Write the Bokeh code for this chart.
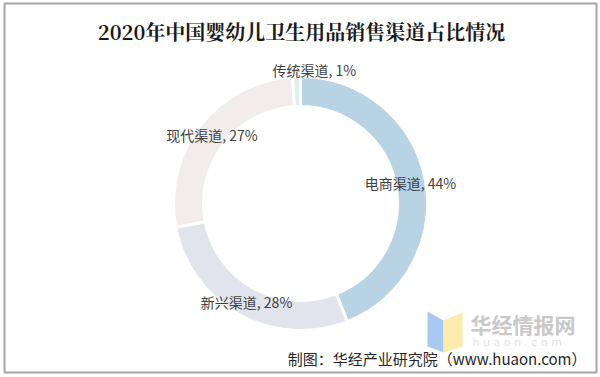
import math
from bokeh.plotting import figure
from bokeh.models import Range1d, ColumnDataSource
from bokeh.core.properties import value
from bokeh.embed import file_html
from bokeh.resources import INLINE

# ---- data ----
title = "2020年中国婴幼儿卫生用品销售渠道占比情况"
categories = ["电商渠道", "新兴渠道", "现代渠道", "传统渠道"]
shares = [44, 28, 27, 1]
colors = ["#B7D3E4", "#E1E4EC", "#F3ECEC", "#DCEEF0"]
source_note = "制图：华经产业研究院（www.huaon.com）"

W, H = 600, 377


def sy(y):
    return H - y


p = figure(width=W, height=H, output_backend="svg", toolbar_location=None,
           x_range=Range1d(0, W), y_range=Range1d(0, H),
           x_axis_type=None, y_axis_type=None, min_border=0)
p.grid.visible = False
p.outline_line_color = None
p.background_fill_color = "white"
p.border_fill_color = "white"

# frame
p.quad(left=[4], right=[596], bottom=[sy(372)], top=[sy(3)],
       fill_color=None, line_color="#A6A6A6", line_width=2)

# donut
cx, cy = 300, sy(203)
r_in, r_out = 97, 127
total = float(sum(shares))
starts, ends, mids = [], [], []
acc = 0.0
for v in shares:
    a0 = math.pi / 2 - 2 * math.pi * acc / total
    a1 = math.pi / 2 - 2 * math.pi * (acc + v) / total
    starts.append(a0)
    ends.append(a1)
    mids.append((a0 + a1) / 2)
    acc += v

src = ColumnDataSource(dict(start=starts, end=ends, color=colors))
p.annular_wedge(x=cx, y=cy, inner_radius=r_in, outer_radius=r_out,
                start_angle="start", end_angle="end", direction="clock",
                fill_color="color", line_color="white", line_width=3, source=src)

# labels
label_r = [112, 112, 112, 134]
label_dx = [0, 0, 0, 18]
lx = [cx + r * math.cos(m) + d for r, m, d in zip(label_r, mids, label_dx)]
ly = [cy + r * math.sin(m) for r, m in zip(label_r, mids)]
texts = [f"{c}, {v}%" for c, v in zip(categories, shares)]
p.text(x=lx, y=ly, text=texts, text_align="center", text_baseline="middle",
       text_font=value("Noto Sans CJK SC"), text_font_size="14px",
       text_color="#404040")

# title
p.text(x=[301], y=[sy(31)], text=[title], text_align="center",
       text_baseline="middle", text_font=value("Noto Serif CJK SC, Noto Sans CJK SC"),
       text_font_size="20px", text_font_style="bold", text_color="#1A1A1A")

# watermark logo
p.patch(x=[427, 443, 443, 427], y=[sy(311), sy(320), sy(352), sy(346)],
        fill_color="#A9C9F2", line_color=None)
p.patch(x=[443, 462, 462, 443], y=[sy(320), sy(312), sy(346), sy(352)],
        fill_color="#FCEBAA", line_color=None)
p.text(x=[470], y=[sy(323)], text=["华经情报网"], text_align="left",
       text_baseline="middle", text_font=value("Noto Sans CJK SC"),
       text_font_size="21px", text_font_style="bold", text_color="#C8C8C8")
p.text(x=[472], y=[sy(342)], text=["h u a o n . c o m"], text_align="left",
       text_baseline="middle", text_font=value("DejaVu Sans"),
       text_font_size="11px", text_color="#E2E2E2")

# source note
p.text(x=[586], y=[sy(358)], text=[source_note], text_align="right",
       text_baseline="middle", text_font=value("Noto Sans CJK SC"),
       text_font_size="15px", text_color="#262626")

open("out.html", "w").write(file_html(p, INLINE))
